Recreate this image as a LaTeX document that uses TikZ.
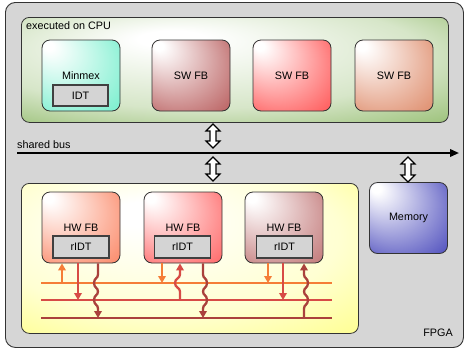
\documentclass[tikz,border=0pt]{standalone}
\usepackage{fontspec}
\setmainfont{Liberation Sans}
\usetikzlibrary{arrows.meta,calc}
\definecolor{fpgagray}{RGB}{214,214,214}
\definecolor{cpugreen}{RGB}{110,165,60}
\definecolor{fpgayel}{RGB}{255,255,95}
\definecolor{minmexc}{RGB}{90,235,195}
\definecolor{swA}{RGB}{170,60,60}
\definecolor{swB}{RGB}{255,50,50}
\definecolor{swC}{RGB}{215,115,75}
\definecolor{hwA}{RGB}{250,110,70}
\definecolor{hwB}{RGB}{255,70,70}
\definecolor{hwC}{RGB}{180,90,90}
\definecolor{memc}{RGB}{40,40,175}
\definecolor{lorange}{RGB}{245,125,55}
\definecolor{lred}{RGB}{215,75,70}
\definecolor{ldark}{RGB}{170,65,60}
\definecolor{idtgray}{RGB}{212,212,212}
\colorlet{hl}{white}
\pgfdeclareradialshading[hl]{glowA}{\pgfqpoint{-22bp}{22bp}}{color(0bp)=(white); color(3bp)=(white); color(50bp)=(hl)}
\pgfdeclareradialshading[hl]{glowB}{\pgfqpoint{-8bp}{16bp}}{color(0bp)=(white); color(4bp)=(white); color(26bp)=(hl!28!white); color(50bp)=(hl)}
\newcommand\fatarrow[2]{%
  \draw[fatline] let \p1=(#1), \p2=(#2) in
    (\p1) -- (\x1+7pt,\y1-7pt) -- (\x1+3pt,\y1-7pt) -- (\x1+3pt,\y2+7pt) -- (\x1+7pt,\y2+7pt)
    -- (\x1,\y2) -- (\x1-7pt,\y2+7pt) -- (\x1-3pt,\y2+7pt) -- (\x1-3pt,\y1-7pt) -- (\x1-7pt,\y1-7pt) -- cycle;}
\tikzset{
  hlc/.code={\colorlet{hl}{#1}},
  container/.style={draw=black!80, line width=0.8pt, rounded corners=8pt, shading=glowB, hlc=#1, anchor=north west},
  fb/.style={draw=black!80, line width=0.8pt, rounded corners=8pt, minimum width=78pt, minimum height=71pt, shading=glowA, hlc=#1, inner sep=0pt},
  idt/.style={draw=black!75, line width=1.2pt, fill=idtgray, minimum width=55pt, minimum height=21pt, inner sep=0pt},
  txt/.style={inner sep=0pt},
  fatline/.style={draw=black, line width=1.1pt, fill=white, line join=miter},
  sig/.style={line width=2.5pt},
  sigarrow/.style={line width=2.3pt, -{Triangle[length=7pt,width=7.5pt]}},
}
\begin{document}
\begin{tikzpicture}[x=1pt,y=-1pt,font=\fontsize{10.8}{13}\selectfont]
\useasboundingbox (0,0) rectangle (466,349);
% outer FPGA
\node[draw=black!80, line width=0.9pt, rounded corners=10pt, fill=fpgagray, anchor=north west,
      minimum width=458pt, minimum height=345pt, inner sep=0pt] (fpga) at (5,2) {};
\node[txt] (fpgal) at (438,333) {FPGA};
% CPU area
\node[container=cpugreen, minimum width=427pt, minimum height=105pt, inner sep=0pt] (cpu) at (21,17) {};
\node[txt, anchor=base west] (cpul) at (26,29) {executed on CPU};
\node[fb=minmexc] (minmex) at (81,75.5) {};
\node[txt] (minmexl) at (81,75.5) {Minmex};
\node[idt] (idt) at (80.5,95.5) {IDT};
\node[fb=swA] (sw1) at (191,75.5) {SW FB};
\node[fb=swB] (sw2) at (292,75.5) {SW FB};
\node[fb=swC] (sw3) at (394,75.5) {SW FB};
% bus
\coordinate (busL) at (17,153);
\coordinate (busR) at (459,153);
\draw[line width=2pt, -{Triangle[length=9pt,width=7.5pt]}] (busL) -- (busR);
\node[txt, anchor=base west] (busl) at (17,148) {shared bus};
% FPGA logic area
\node[container=fpgayel, minimum width=337pt, minimum height=150pt, inner sep=0pt] (logic) at (21,183) {};
\node[fb=memc] (mem) at (408.5,218) {Memory};
\node[fb=hwA] (hw1) at (81,227.5) {};
\node[fb=hwB] (hw2) at (183,227.5) {};
\node[fb=hwC] (hw3) at (284,227.5) {};
\node[txt] (hw1l) at (81,228) {HW FB};
\node[txt] (hw2l) at (183,228) {HW FB};
\node[txt] (hw3l) at (284,228) {HW FB};
\node[idt, minimum width=56pt, minimum height=22pt] (ridt1) at (81,247) {rIDT};
\node[idt, minimum width=56pt, minimum height=22pt] (ridt2) at (182.5,247) {rIDT};
\node[idt, minimum width=56pt, minimum height=22pt] (ridt3) at (284.5,247) {rIDT};
% fat bus arrows
\coordinate (a1t) at (213,124); \coordinate (a1b) at (213,148);
\coordinate (a2t) at (213,157); \coordinate (a2b) at (213,181);
\coordinate (a3t) at (408,157); \coordinate (a3b) at (408,182);
\fatarrow{a1t}{a1b}
\fatarrow{a2t}{a2b}
\fatarrow{a3t}{a3b}
% signal lines
\coordinate (oL) at (41,283); \coordinate (oR) at (332,283);
\coordinate (rL) at (41,300); \coordinate (rR) at (332,300);
\coordinate (dL) at (41,318); \coordinate (dR) at (332,318);
\draw[sig, lorange] (oL) -- (oR);
\draw[sig, lred] (rL) -- (rR);
\draw[sig, ldark] (dL) -- (dR);
% HW FB 1
\draw[sigarrow, lorange] (62,0 |- oL) -- ([xshift=-19pt]hw1.south);
\draw[sigarrow, lred] ([xshift=-3pt]hw1.south) -- (78,0 |- rL);
\draw[sigarrow, ldark] ([xshift=17pt]hw1.south) -- (98,274.5)
  .. controls (98,278.5) and (94,278) .. (94,283) .. controls (94,288) and (98,287.5) .. (98,291.5)
  .. controls (98,295.5) and (94,295) .. (94,300) .. controls (94,305) and (98,304.5) .. (98,308.5)
  -- (98,0 |- dL);
% HW FB 2
\draw[sigarrow, lorange] ([xshift=-21pt]hw2.south) -- (162,0 |- oL);
\draw[sigarrow, lred] (180,0 |- rL) -- (180,291.5)
  .. controls (180,287.5) and (175,288) .. (175,283) .. controls (175,278) and (180,278.5) .. (180,274.5)
  -- ([xshift=-3pt]hw2.south);
\draw[sigarrow, ldark] ([xshift=20pt]hw2.south) -- (203,274.5)
  .. controls (203,278.5) and (207,278) .. (207,283) .. controls (207,288) and (203,287.5) .. (203,291.5)
  .. controls (203,295.5) and (207,295) .. (207,300) .. controls (207,305) and (203,304.5) .. (203,308.5)
  -- (203,0 |- dL);
% HW FB 3
\draw[sigarrow, lorange] ([xshift=-16pt]hw3.south) -- (268,0 |- oL);
\draw[sigarrow, lred] ([xshift=-1pt]hw3.south) -- (283,0 |- rL);
\draw[sigarrow, ldark] (304,0 |- dL) -- (304,308.5)
  .. controls (304,304.5) and (308,305) .. (308,300) .. controls (308,295) and (304,295.5) .. (304,291.5)
  .. controls (304,287.5) and (308,288) .. (308,283) .. controls (308,278) and (304,278.5) .. (304,274.5)
  -- ([xshift=20pt]hw3.south);
\end{tikzpicture}
\end{document}
